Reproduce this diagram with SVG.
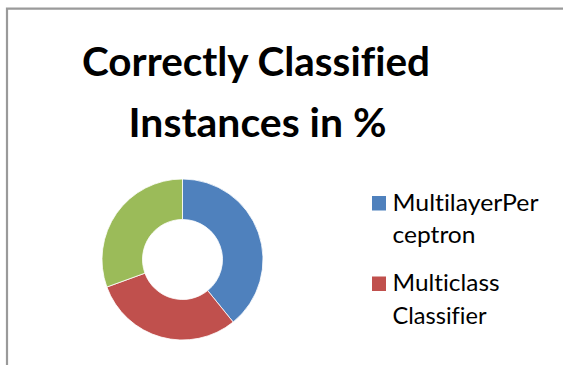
<svg xmlns="http://www.w3.org/2000/svg" width="563" height="365" viewBox="0 0 563 365">
<style>
text{font-variant-ligatures:none;font-feature-settings:"liga" 0,"clig" 0}
.title{font-family:Lato,"Open Sans","Liberation Sans",sans-serif;font-weight:bold;font-size:41px;fill:#000}
.leg{font-family:Lato,"Open Sans","Liberation Sans",sans-serif;font-size:22.5px;fill:#000}
.slice{stroke:#fff;stroke-width:0.8}
.frame{stroke:#9a9a9a;stroke-width:2.2;fill:none}
</style>
<rect width="563" height="365" fill="#fff"/>
<g id="frame">
<path class="frame" d="M7,365 V8.7 H563"/>
</g>
<g id="title">
<text class="title" x="82" y="76" textLength="348" lengthAdjust="spacingAndGlyphs">Correctly Classified</text>
<text class="title" x="128.5" y="136.5" textLength="258" lengthAdjust="spacingAndGlyphs">Instances in %</text>
</g>
<g id="donut">
<path id="slice-mlp" class="slice" fill="#4F81BD" d="M182.5,179 A80.5,80.5 0 0 1 233.16,322.06 L207.67,290.58 A40,40 0 0 0 182.5,219.5 Z"/>
<path id="slice-mcc" class="slice" fill="#C0504D" d="M233.16,322.06 A80.5,80.5 0 0 1 106.85,287.03 L144.91,273.18 A40,40 0 0 0 207.67,290.58 Z"/>
<path id="slice-3" class="slice" fill="#9BBB59" d="M106.85,287.03 A80.5,80.5 0 0 1 182.5,179 L182.5,219.5 A40,40 0 0 0 144.91,273.18 Z"/>
</g>
<g id="legend">
<g id="legend-mlp">
<rect x="372" y="196" width="14" height="14.5" fill="#4F81BD"/>
<text class="leg" x="392.5" y="210.5" textLength="146" lengthAdjust="spacingAndGlyphs">MultilayerPer</text>
<text class="leg" x="392.5" y="243" textLength="83" lengthAdjust="spacingAndGlyphs">ceptron</text>
</g>
<g id="legend-mcc">
<rect x="372" y="276.5" width="14" height="14.5" fill="#C0504D"/>
<text class="leg" x="392.5" y="291" textLength="107" lengthAdjust="spacingAndGlyphs">Multiclass</text>
<text class="leg" x="392.5" y="323.5" textLength="94" lengthAdjust="spacingAndGlyphs">Classifier</text>
</g>
</g>
</svg>
